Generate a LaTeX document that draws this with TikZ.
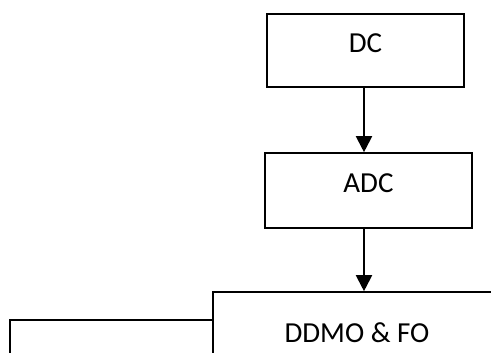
\documentclass[tikz,border=0pt]{standalone}
\usepackage{fontspec}
\setmainfont{Carlito}
\usetikzlibrary{arrows.meta,calc}
\begin{document}
\begin{tikzpicture}[x=1pt,y=-1pt,
  box/.style={draw=black,line width=1.6pt,rectangle,inner sep=0pt,
    font=\fontsize{29}{34}\selectfont},
  arr/.style={line width=2pt,-{Triangle[length=16pt,width=16pt]}},
  link/.style={line width=1.7pt}]
\useasboundingbox (0,0) rectangle (491,353);
\clip (0,0) rectangle (491,353);
\node[box,minimum width=197pt,minimum height=73pt,text height=20pt,text depth=15pt] (dc) at (365.5,50.5) {DC};
\node[box,minimum width=207pt,minimum height=75pt,text height=20pt,text depth=15pt] (adc) at (368.5,190.5) {ADC};
\node[box,minimum width=288pt,minimum height=75pt,text height=25pt,text depth=0pt] (ddmo) at (357,329.5) {DDMO \& FO};
\coordinate (cend) at (10,360);
\draw[arr] ([xshift=-1.5pt]dc.south) -- ([xshift=-1.5pt]dc.south |- adc.north);
\draw[arr] ([xshift=-4.5pt]adc.south) -- ([xshift=-4.5pt]adc.south |- ddmo.north);
\draw[link] ([yshift=-28.5pt]ddmo.north west) -| (cend);
\end{tikzpicture}
\end{document}
